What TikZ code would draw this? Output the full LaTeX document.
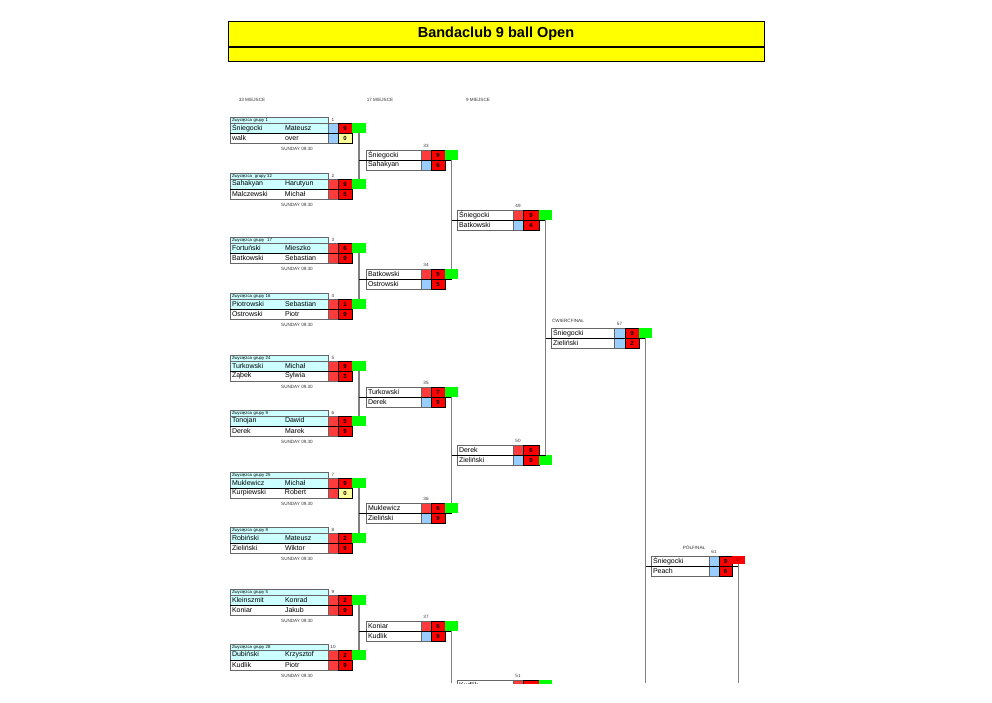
\documentclass[tikz,border=0pt]{standalone}
\usepackage{fontspec}
\setmainfont{Liberation Sans}
\usepackage{xcolor}
\usepackage{tikz}
\usetikzlibrary{positioning}

\definecolor{titleyellow}{HTML}{FFFF00}
\definecolor{lightcyan}{HTML}{CCFFFF}
\definecolor{seedred}{HTML}{FF3B3B}
\definecolor{scorered}{HTML}{FF0000}
\definecolor{seedblue}{HTML}{99CCFF}
\definecolor{lostyellow}{HTML}{FFFF99}
\definecolor{wingreen}{HTML}{00FF00}

\begin{document}
\begin{tikzpicture}[x=1pt, y=-1pt,
    banner/.style={rectangle, draw=black, line width=0.9pt, fill=titleyellow, minimum width=536pt, inner sep=0pt, outer sep=0pt, font=\fontsize{14.5}{16}\selectfont\bfseries},
    group/.style={rectangle, draw=black!60, line width=0.6pt, fill=lightcyan, minimum height=6pt, inner xsep=2pt, inner ysep=0pt, outer sep=0pt, text width=94pt, align=left, anchor=north west, font=\fontsize{4.3}{5}\selectfont},
    player/.style={rectangle, draw=black!60, line width=0.6pt, fill=white, minimum height=10pt, inner xsep=2pt, inner ysep=0pt, outer sep=0pt, text width=#1, align=left, anchor=north west, font=\fontsize{7}{8}\selectfont},
    player/.default=94pt,
    seed/.style={rectangle, draw=black!60, line width=0.6pt, fill=seedred, minimum width=#1, minimum height=10pt, inner sep=0pt, outer sep=0pt, anchor=north west},
    seed/.default=10pt,
    score/.style={rectangle, draw=black, line width=0.8pt, fill=scorered, minimum width=#1, minimum height=10pt, inner sep=0pt, outer sep=0pt, anchor=north west, font=\fontsize{6}{7}\selectfont\bfseries},
    score/.default=14pt,
    win/.style={rectangle, fill=wingreen, minimum width=#1, minimum height=9.5pt, inner sep=0pt, outer sep=0pt, anchor=north west},
    win/.default=13pt,
    tag/.style={inner sep=0pt, outer sep=0pt, text=black!80, font=\fontsize{4.6}{5.5}\selectfont},
    link/.style={draw=black!50, line width=1.8pt},
    feed/.style={draw=black, line width=0.9pt}
]
\useasboundingbox (0,0) rectangle (992,702);

% Title
\node[banner, minimum height=25pt] (title) at (496,33.5) {Bandaclub 9 ball Open};
\node[banner, minimum height=14pt, below=1.5pt of title] (subtitle) {};

% Column headers
\node[tag] (h33) at (252,100) {33 MIEJSCE};
\node[tag] (h17) at (380,100) {17 MIEJSCE};
\node[tag] (h9) at (478,100) {9 MIEJSCE};

% Match 1
\node[group] (g1) at (230,117) {Zwycięzca grupy 1};
\node[player, fill=lightcyan, below=0pt of g1] (m1a) {\makebox[53pt][l]{Śniegocki}Mateusz};
\node[player, below=0pt of m1a] (m1b) {\makebox[53pt][l]{walk}over};
\node[seed, fill=seedblue, minimum height=20pt] (s1) at (m1a.north east) {};
\node[score] (m1x) at (s1.north east) {9};
\node[score, fill=lostyellow] (m1y) at (m1x.south west) {0};
\node[win=14pt] (w1) at (m1x.north east) {};
\node[tag, above=1.5pt of s1] (n1) {1};
\node[tag, below=4pt of m1b, xshift=18pt] (d1) {SUNDAY 09.30};

% Match 2
\node[group] (g2) at (230,173) {Zwycięzca~ grupy 32};
\node[player, fill=lightcyan, below=0pt of g2] (m2a) {\makebox[53pt][l]{Sahakyan}Harutyun};
\node[player, below=0pt of m2a] (m2b) {\makebox[53pt][l]{Malczewski}Michał};
\node[seed, minimum height=20pt] (s2) at (m2a.north east) {};
\node[score] (m2x) at (s2.north east) {9};
\node[score] (m2y) at (m2x.south west) {5};
\node[win=14pt] (w2) at (m2x.north east) {};
\node[tag, above=1.5pt of s2] (n2) {2};
\node[tag, below=4pt of m2b, xshift=18pt] (d2) {SUNDAY 09.30};

% Match 3
\node[group] (g3) at (230,237) {Zwycięzca grupy~ 17};
\node[player, fill=lightcyan, below=0pt of g3] (m3a) {\makebox[53pt][l]{Fortuński}Mieszko};
\node[player, below=0pt of m3a] (m3b) {\makebox[53pt][l]{Batkowski}Sebastian};
\node[seed, minimum height=20pt] (s3) at (m3a.north east) {};
\node[score] (m3x) at (s3.north east) {6};
\node[score] (m3y) at (m3x.south west) {9};
\node[win=14pt] (w3) at (m3x.north east) {};
\node[tag, above=1.5pt of s3] (n3) {3};
\node[tag, below=4pt of m3b, xshift=18pt] (d3) {SUNDAY 09.30};

% Match 4
\node[group] (g4) at (230,293) {Zwycięzca grupy 16};
\node[player, fill=lightcyan, below=0pt of g4] (m4a) {\makebox[53pt][l]{Piotrowski}Sebastian};
\node[player, below=0pt of m4a] (m4b) {\makebox[53pt][l]{Ostrowski}Piotr};
\node[seed, minimum height=20pt] (s4) at (m4a.north east) {};
\node[score] (m4x) at (s4.north east) {1};
\node[score] (m4y) at (m4x.south west) {9};
\node[win=14pt] (w4) at (m4x.north east) {};
\node[tag, above=1.5pt of s4] (n4) {4};
\node[tag, below=4pt of m4b, xshift=18pt] (d4) {SUNDAY 09.30};

% Match 5
\node[group] (g5) at (230,355) {Zwycięzca grupy 24};
\node[player, fill=lightcyan, below=0pt of g5] (m5a) {\makebox[53pt][l]{Turkowski}Michał};
\node[player, below=0pt of m5a] (m5b) {\makebox[53pt][l]{Ząbek}Sylwia};
\node[seed, minimum height=20pt] (s5) at (m5a.north east) {};
\node[score] (m5x) at (s5.north east) {9};
\node[score] (m5y) at (m5x.south west) {3};
\node[win=14pt] (w5) at (m5x.north east) {};
\node[tag, above=1.5pt of s5] (n5) {5};
\node[tag, below=4pt of m5b, xshift=18pt] (d5) {SUNDAY 09.30};

% Match 6
\node[group] (g6) at (230,410) {Zwycięzca grupy 9};
\node[player, fill=lightcyan, below=0pt of g6] (m6a) {\makebox[53pt][l]{Tonojan}Dawid};
\node[player, below=0pt of m6a] (m6b) {\makebox[53pt][l]{Derek}Marek};
\node[seed, minimum height=20pt] (s6) at (m6a.north east) {};
\node[score] (m6x) at (s6.north east) {5};
\node[score] (m6y) at (m6x.south west) {9};
\node[win=14pt] (w6) at (m6x.north east) {};
\node[tag, above=1.5pt of s6] (n6) {6};
\node[tag, below=4pt of m6b, xshift=18pt] (d6) {SUNDAY 09.30};

% Match 7
\node[group] (g7) at (230,472) {Zwycięzca grupy 25};
\node[player, fill=lightcyan, below=0pt of g7] (m7a) {\makebox[53pt][l]{Muklewicz}Michał};
\node[player, below=0pt of m7a] (m7b) {\makebox[53pt][l]{Kurpiewski}Robert};
\node[seed, minimum height=20pt] (s7) at (m7a.north east) {};
\node[score] (m7x) at (s7.north east) {9};
\node[score, fill=lostyellow] (m7y) at (m7x.south west) {0};
\node[win=14pt] (w7) at (m7x.north east) {};
\node[tag, above=1.5pt of s7] (n7) {7};
\node[tag, below=4pt of m7b, xshift=18pt] (d7) {SUNDAY 09.30};

% Match 8
\node[group] (g8) at (230,527) {Zwycięzca grupy 8};
\node[player, fill=lightcyan, below=0pt of g8] (m8a) {\makebox[53pt][l]{Robiński}Mateusz};
\node[player, below=0pt of m8a] (m8b) {\makebox[53pt][l]{Zieliński}Wiktor};
\node[seed, minimum height=20pt] (s8) at (m8a.north east) {};
\node[score] (m8x) at (s8.north east) {2};
\node[score] (m8y) at (m8x.south west) {9};
\node[win=14pt] (w8) at (m8x.north east) {};
\node[tag, above=1.5pt of s8] (n8) {8};
\node[tag, below=4pt of m8b, xshift=18pt] (d8) {SUNDAY 09.30};

% Match 9
\node[group] (g9) at (230,589) {Zwycięzca grupy 5};
\node[player, fill=lightcyan, below=0pt of g9] (m9a) {\makebox[53pt][l]{Kleinszmit}Konrad};
\node[player, below=0pt of m9a] (m9b) {\makebox[53pt][l]{Koniar}Jakub};
\node[seed, minimum height=20pt] (s9) at (m9a.north east) {};
\node[score] (m9x) at (s9.north east) {2};
\node[score] (m9y) at (m9x.south west) {9};
\node[win=14pt] (w9) at (m9x.north east) {};
\node[tag, above=1.5pt of s9] (n9) {9};
\node[tag, below=4pt of m9b, xshift=18pt] (d9) {SUNDAY 09.30};

% Match 10
\node[group] (g10) at (230,644) {Zwycięzca grupy 28};
\node[player, fill=lightcyan, below=0pt of g10] (m10a) {\makebox[53pt][l]{Dubiński}Krzysztof};
\node[player, below=0pt of m10a] (m10b) {\makebox[53pt][l]{Kudlik}Piotr};
\node[seed, minimum height=20pt] (s10) at (m10a.north east) {};
\node[score] (m10x) at (s10.north east) {2};
\node[score] (m10y) at (m10x.south west) {9};
\node[win=14pt] (w10) at (m10x.north east) {};
\node[tag, above=1.5pt of s10] (n10) {10};
\node[tag, below=4pt of m10b, xshift=18pt] (d10) {SUNDAY 09.30};

% Match 33
\node[player=51pt] (m33a) at (366,150) {Śniegocki};
\node[player=51pt, below=0pt of m33a] (m33b) {Sahakyan};
\node[seed] (s33a) at (m33a.north east) {};
\node[seed, fill=seedblue] (s33b) at (m33b.north east) {};
\node[score] (m33x) at (s33a.north east) {9};
\node[score] (m33y) at (s33b.north east) {6};
\node[win] (w33) at (m33x.north east) {};
\node[tag, above=2pt of s33a] (n33) {33};

% Match 34
\node[player=51pt] (m34a) at (366,269) {Batkowski};
\node[player=51pt, below=0pt of m34a] (m34b) {Ostrowski};
\node[seed] (s34a) at (m34a.north east) {};
\node[seed, fill=seedblue] (s34b) at (m34b.north east) {};
\node[score] (m34x) at (s34a.north east) {9};
\node[score] (m34y) at (s34b.north east) {5};
\node[win] (w34) at (m34x.north east) {};
\node[tag, above=2pt of s34a] (n34) {34};

% Match 35
\node[player=51pt] (m35a) at (366,387) {Turkowski};
\node[player=51pt, below=0pt of m35a] (m35b) {Derek};
\node[seed] (s35a) at (m35a.north east) {};
\node[seed, fill=seedblue] (s35b) at (m35b.north east) {};
\node[score] (m35x) at (s35a.north east) {7};
\node[score] (m35y) at (s35b.north east) {9};
\node[win] (w35) at (m35x.north east) {};
\node[tag, above=2pt of s35a] (n35) {35};

% Match 36
\node[player=51pt] (m36a) at (366,503) {Muklewicz};
\node[player=51pt, below=0pt of m36a] (m36b) {Zieliński};
\node[seed] (s36a) at (m36a.north east) {};
\node[seed, fill=seedblue] (s36b) at (m36b.north east) {};
\node[score] (m36x) at (s36a.north east) {6};
\node[score] (m36y) at (s36b.north east) {9};
\node[win] (w36) at (m36x.north east) {};
\node[tag, above=2pt of s36a] (n36) {36};

% Match 37
\node[player=51pt] (m37a) at (366,621) {Koniar};
\node[player=51pt, below=0pt of m37a] (m37b) {Kudlik};
\node[seed] (s37a) at (m37a.north east) {};
\node[seed, fill=seedblue] (s37b) at (m37b.north east) {};
\node[score] (m37x) at (s37a.north east) {6};
\node[score] (m37y) at (s37b.north east) {9};
\node[win] (w37) at (m37x.north east) {};
\node[tag, above=2pt of s37a] (n37) {37};

% Match 49
\node[player=52pt] (m49a) at (457,210) {Śniegocki};
\node[player=52pt, below=0pt of m49a] (m49b) {Batkowski};
\node[seed] (s49a) at (m49a.north east) {};
\node[seed, fill=seedblue] (s49b) at (m49b.north east) {};
\node[score=16pt] (m49x) at (s49a.north east) {9};
\node[score=16pt] (m49y) at (s49b.north east) {4};
\node[win] (w49) at (m49x.north east) {};
\node[tag, above=2pt of s49a] (n49) {49};

% Match 50
\node[player=52pt] (m50a) at (457,445) {Derek};
\node[player=52pt, below=0pt of m50a] (m50b) {Zieliński};
\node[seed] (s50a) at (m50a.north east) {};
\node[seed, fill=seedblue] (s50b) at (m50b.north east) {};
\node[score=16pt] (m50x) at (s50a.north east) {6};
\node[score=16pt] (m50y) at (s50b.north east) {9};
\node[win] (w50) at (m50y.north east) {};
\node[tag, above=2pt of s50a] (n50) {50};

% Match 51 (cut by the page)
\begin{scope}
\clip (440,600) rectangle (600,683);
\node[player=52pt] (m51a) at (457,680) {Kudlik};
\node[seed] (s51a) at (m51a.north east) {};
\node[score=16pt] (m51x) at (s51a.north east) {};
\node[win] (w51) at (m51x.north east) {};
\end{scope}
\node[tag, above=2pt of s51a] (n51) {51};

% Match 57
\node[tag] (q57) at (568,321) {ĆWIERĆFINAŁ};
\node[player=59pt] (m57a) at (551,328) {Śniegocki};
\node[player=59pt, below=0pt of m57a] (m57b) {Zieliński};
\node[seed=11pt, fill=seedblue] (s57a) at (m57a.north east) {};
\node[seed=11pt, fill=seedblue] (s57b) at (m57b.north east) {};
\node[score] (m57x) at (s57a.north east) {9};
\node[score] (m57y) at (s57b.north east) {2};
\node[win] (w57) at (m57x.north east) {};
\node[tag, above=2pt of s57a] (n57) {57};

% Match 61
\node[tag] (q61) at (694,548) {PÓŁFINAŁ};
\node[player=54pt] (m61a) at (651,556) {Śniegocki};
\node[player=54pt, below=0pt of m61a] (m61b) {Peach};
\node[seed, fill=seedblue] (s61a) at (m61a.north east) {};
\node[seed, fill=seedblue] (s61b) at (m61b.north east) {};
\node[score=13pt] (m61x) at (s61a.north east) {9};
\node[score=13pt] (m61y) at (s61b.north east) {6};
\node[win, fill=scorered, minimum height=8pt, text=red!45!black, font=\fontsize{4.3}{5}\selectfont] (w61) at (m61x.north east) {17};
\node[tag, above=2pt of s61a] (n61) {61};

% Free ends at the page cut
\coordinate (e37) at (w37 |- 0,683);
\coordinate (e57) at (w57 |- 0,683);
\coordinate (e61) at (w61 |- 0,683);

% Row lines of the first round
\foreach \m in {1,...,10}
  \draw[feed] (m\m a.south west) -- (s\m.east |- m\m a.south);

% Round 1 -> round 2
\draw[link] (w1.south) -- (w2.north);
\draw[link] (w3.south) -- (w4.north);
\draw[link] (w5.south) -- (w6.north);
\draw[link] (w7.south) -- (w8.north);
\draw[link] (w9.south) -- (w10.north);
\draw[feed] (w1 |- m33a.south) -- (w33 |- m33a.south);
\draw[feed] (w3 |- m34a.south) -- (w34 |- m34a.south);
\draw[feed] (w5 |- m35a.south) -- (w35 |- m35a.south);
\draw[feed] (w7 |- m36a.south) -- (w36 |- m36a.south);
\draw[feed] (w9 |- m37a.south) -- (w37 |- m37a.south);

% Round 2 -> round 3
\draw[link] (w33.south) -- (w34.north);
\draw[link] (w35.south) -- (w36.north);
\draw[link] (w37.south) -- (e37);
\draw[feed] (w33 |- m49a.south) -- (w49 |- m49a.south);
\draw[feed] (w35 |- m50a.south) -- (w50 |- m50a.south);

% Round 3 -> quarter final
\draw[link] (w49.south) -- (w50.north);
\draw[feed] (w49 |- m57a.south) -- (w57 |- m57a.south);

% Quarter final -> semi final
\draw[link] (w57.south) -- (e57);
\draw[feed] (w57 |- m61a.south) -- (w61 |- m61a.south);
\draw[link] (w61.south) -- (e61);

\end{tikzpicture}
\end{document}
